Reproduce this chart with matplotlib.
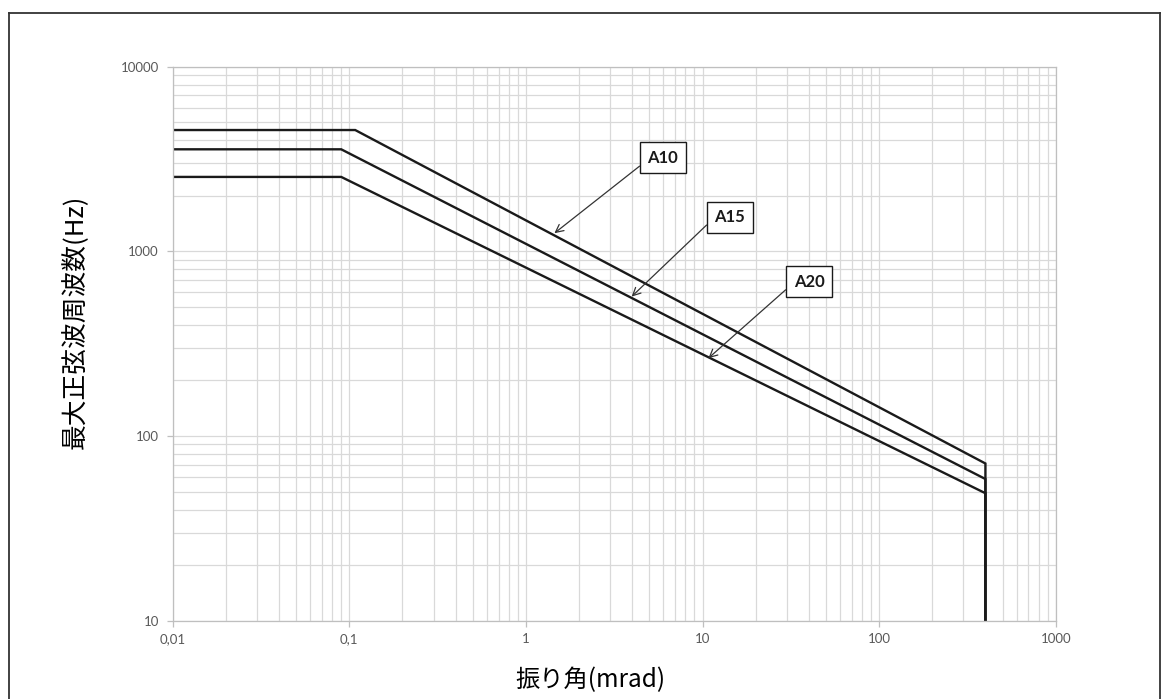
import matplotlib
matplotlib.use("Agg")
import matplotlib.pyplot as plt
from matplotlib.ticker import FixedLocator, FixedFormatter, LogLocator, NullFormatter
from matplotlib.lines import Line2D

# ---- data ----
series_names = ["A10", "A15", "A20"]
a10_x = [0.01, 0.108, 400, 400]
a10_y = [4540, 4540, 71, 10]
a15_x = [0.01, 0.09, 400, 400]
a15_y = [3570, 3570, 58.5, 10]
a20_x = [0.01, 0.09, 400, 400]
a20_y = [2530, 2530, 49, 10]

x_ticks = [0.01, 0.1, 1, 10, 100, 1000]
x_tick_labels = ["0,01", "0,1", "1", "10", "100", "1000"]
y_ticks = [10, 100, 1000, 10000]
y_tick_labels = ["10", "100", "1000", "10000"]

# annotation: label, arrow tip (data), text centre (data), arrow relpos on box
ann_labels = ["A10", "A15", "A20"]
ann_tip = [(1.45, 1254), (3.97, 569), (10.8, 264)]
ann_text = [(5.97, 3206), (14.3, 1527), (40.1, 683)]
ann_relpos = [(0, 0.38), (0, 0.5), (0, 0.45)]

xlabel = "振り角(mrad)"
ylabel = "最大正弦波周波数(Hz)"

# ---- figure ----
W, H = 1168, 699
fig = plt.figure(figsize=(W / 100, H / 100), dpi=100)
fig.patch.set_facecolor("white")

left, right, top, bottom = 172.7, 1055.7, 66.7, 620.7
ax = fig.add_axes([left / W, (H - bottom) / H, (right - left) / W, (bottom - top) / H])
ax.set_xscale("log")
ax.set_yscale("log")
ax.set_xlim(0.01, 1000)
ax.set_ylim(10, 10000)

grid_c = "#d9d9d9"
ax.xaxis.set_minor_locator(LogLocator(base=10, subs=range(2, 10), numticks=20))
ax.yaxis.set_minor_locator(LogLocator(base=10, subs=range(2, 10), numticks=20))
ax.xaxis.set_minor_formatter(NullFormatter())
ax.yaxis.set_minor_formatter(NullFormatter())
ax.grid(True, which="both", color=grid_c, linewidth=0.9)
ax.set_axisbelow(True)

ax.xaxis.set_major_locator(FixedLocator(x_ticks))
ax.xaxis.set_major_formatter(FixedFormatter(x_tick_labels))
ax.yaxis.set_major_locator(FixedLocator(y_ticks))
ax.yaxis.set_major_formatter(FixedFormatter(y_tick_labels))

ax.tick_params(which="minor", length=0)
ax.tick_params(axis="both", which="major", length=4, width=0.9, color="#bfbfbf",
               labelcolor="#595959", labelsize=9.5)
ax.tick_params(axis="x", pad=5)
ax.tick_params(axis="y", pad=6)
for lab in ax.get_xticklabels() + ax.get_yticklabels():
    lab.set_fontfamily("Lato")

for sp in ax.spines.values():
    sp.set_color("#bfbfbf")
    sp.set_linewidth(0.9)

line_c = "#1a1a1a"
for xs, ys in [(a10_x, a10_y), (a15_x, a15_y), (a20_x, a20_y)]:
    ax.plot(xs, ys, color=line_c, linewidth=1.7, solid_joinstyle="miter")

for lab, tip, txt, rp in zip(ann_labels, ann_tip, ann_text, ann_relpos):
    ax.annotate(lab, xy=tip, xytext=txt, ha="center", va="center",
                fontsize=12, fontweight="bold", family="Lato", color="#1a1a1a",
                bbox=dict(boxstyle="square,pad=0.45", fc="white", ec="#1a1a1a", lw=1.0),
                arrowprops=dict(arrowstyle="->", color="#333333", lw=0.9,
                                relpos=rp, shrinkA=0, shrinkB=0,
                                mutation_scale=14))

cjk = ["Noto Sans CJK JP", "DejaVu Sans"]
fig.text(590 / W, (H - 680) / H, xlabel, family=cjk, fontsize=17.5, color="black",
         ha="center", va="center")
fig.text(75 / W, (H - 322) / H, ylabel, family=cjk, fontsize=18.5, color="black",
         ha="center", va="center", rotation=90)

# outer frame (left, top, right)
fx0, fx1, fy0 = 9 / W, 1160 / W, (H - 13) / H
for xs, ys in [([fx0, fx0], [0, fy0]), ([fx0, fx1], [fy0, fy0]), ([fx1, fx1], [fy0, 0])]:
    fig.add_artist(Line2D(xs, ys, transform=fig.transFigure, color="#333333", linewidth=1.3))

fig.savefig("out.png", dpi=100, facecolor="white")
